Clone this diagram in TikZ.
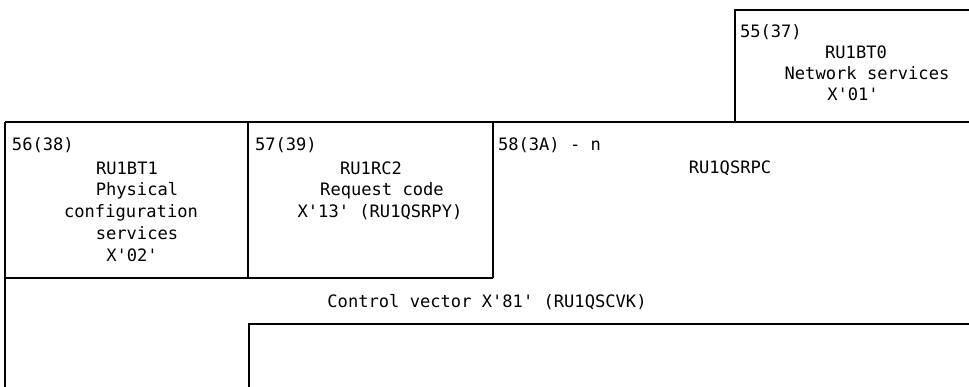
\documentclass[tikz,border=0pt]{standalone}
\usepackage{fontspec}
\setmonofont{DejaVu Sans Mono}
\begin{document}
\begin{tikzpicture}[x=1pt,y=-1pt,
  frame/.style={line width=1.3pt,black},
  lbl/.style={inner sep=0pt,outer sep=0pt,anchor=base,font=\ttfamily\fontsize{17.1}{21}\selectfont},
  hdr/.style={lbl,anchor=base west}]
\useasboundingbox (0,0) rectangle (969,387);
% corner coordinates
\coordinate (t55l) at (735,10);
\coordinate (t55r) at (969,10);
\coordinate (b55l) at (735,122);
\coordinate (rowl) at (5,122);
\coordinate (rowr) at (969,122);
\coordinate (v1t) at (248,122);
\coordinate (v1b) at (248,278);
\coordinate (v2t) at (493,122);
\coordinate (v2b) at (493,278);
\coordinate (botl) at (5,278);
\coordinate (lb) at (5,387);
\coordinate (ibl) at (249,387);
\coordinate (itl) at (249,324);
\coordinate (itr) at (969,324);
% lines
\draw[frame] (b55l) -- (t55l) -- (t55r);
\draw[frame] (rowl) -- (rowr);
\draw[frame] (lb) -- (rowl);
\draw[frame] (v1t) -- (v1b);
\draw[frame] (v2t) -- (v2b);
\draw[frame] (botl) -- (v2b);
\draw[frame] (ibl) -- (itl) -- (itr);
% box 55
\node[hdr] (h55) at (740,38) {55(37)};
\node[lbl] (a55) at (856,59) {RU1BT0};
\node[lbl] (b55) at (867,80) {Network services};
\node[lbl] (c55) at (853,101) {X'01'};
% box 56
\node[hdr] (h56) at (12,151) {56(38)};
\node[lbl] (a56) at (127,175) {RU1BT1};
\node[lbl] (b56) at (137,196) {Physical};
\node[lbl] (c56) at (131,218) {configuration};
\node[lbl] (d56) at (137,240) {services};
\node[lbl] (e56) at (132,262) {X'02'};
% box 57
\node[hdr] (h57) at (255,151) {57(39)};
\node[lbl] (a57) at (371,175) {RU1RC2};
\node[lbl] (b57) at (382,196) {Request code};
\node[lbl] (c57) at (380,218) {X'13' (RU1QSRPY)};
% box 58
\node[hdr] (h58) at (498,151) {58(3A) - n};
\node[lbl] (a58) at (730,174) {RU1QSRPC};
% control vector
\node[lbl] (cv) at (487,308) {Control vector X'81' (RU1QSCVK)};
\end{tikzpicture}
\end{document}
